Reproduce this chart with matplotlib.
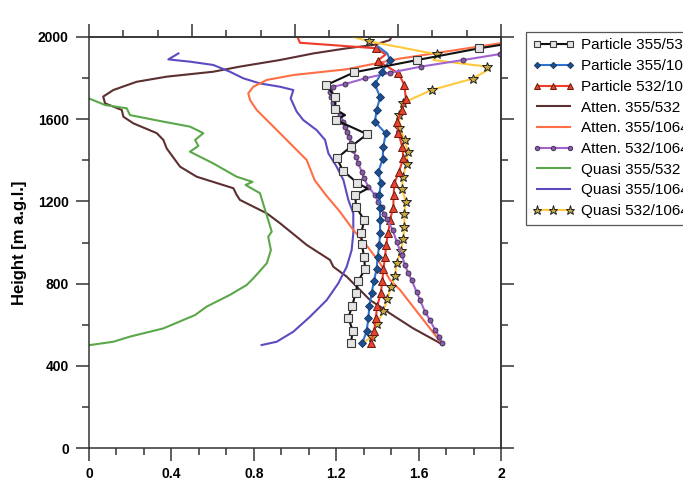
import matplotlib
matplotlib.use("Agg")
import matplotlib.pyplot as plt
from matplotlib.ticker import MultipleLocator, AutoMinorLocator, FuncFormatter

plt.rcParams["font.family"] = ["Liberation Sans", "DejaVu Sans"]

# ---- data (ratio vs height in m a.g.l.) ----
part_355_532_h = [512, 571, 634, 692, 753, 813, 870, 928, 993, 1048, 1109, 1174, 1231, 1262,
                  1291, 1349, 1410, 1466, 1527, 1596, 1620, 1648, 1709, 1766, 1828, 1888, 1945, 1962]
part_355_532_x = [1.272, 1.280, 1.259, 1.278, 1.294, 1.307, 1.340, 1.336, 1.324, 1.322, 1.336, 1.296,
                  1.293, 1.352, 1.301, 1.233, 1.203, 1.271, 1.350, 1.199, 1.243, 1.196, 1.194, 1.152,
                  1.287, 1.594, 1.895, 2.0]
part_355_532_mk = [i for i in range(27) if i not in (13, 20)]

part_355_1064_h = [509, 571, 631, 691, 753, 813, 869, 928, 988, 1048, 1109, 1170, 1231, 1288,
                   1345, 1405, 1466, 1531, 1588, 1645, 1706, 1771, 1828, 1888, 1920, 1953]
part_355_1064_x = [1.327, 1.348, 1.356, 1.361, 1.372, 1.383, 1.396, 1.401, 1.409, 1.413, 1.413,
                   1.413, 1.409, 1.417, 1.405, 1.425, 1.429, 1.440, 1.388, 1.396, 1.413, 1.388,
                   1.421, 1.461, 1.448, 1.404]
part_355_1064_mk = list(range(24))

part_532_1064_h = [512, 571, 634, 692, 753, 813, 870, 928, 988, 1048, 1109, 1170, 1231, 1288,
                   1345, 1410, 1466, 1531, 1588, 1645, 1700, 1766, 1823, 1885, 1915, 1945, 1972, 2005]
part_532_1064_x = [1.369, 1.385, 1.392, 1.400, 1.416, 1.424, 1.429, 1.437, 1.442, 1.453, 1.461,
                   1.477, 1.479, 1.482, 1.505, 1.526, 1.521, 1.502, 1.497, 1.518, 1.538, 1.531,
                   1.502, 1.401, 1.440, 1.394, 1.024, 1.010]
part_532_1064_mk = [i for i in range(26) if i != 24]

att_355_532_h = [506, 582, 655, 688, 720, 834, 882, 915, 988, 1028, 1094, 1142, 1207, 1231, 1264,
                 1320, 1369, 1458, 1499, 1532, 1580, 1612, 1645, 1677, 1710, 1742, 1782, 1807,
                 1831, 1856, 1888, 1920, 1945, 1961, 1985, 2005]
att_355_532_x = [1.712, 1.574, 1.461, 1.413, 1.364, 1.251, 1.186, 1.170, 1.057, 1.008, 0.927,
                 0.863, 0.733, 0.717, 0.701, 0.523, 0.442, 0.377, 0.361, 0.329, 0.215, 0.167,
                 0.159, 0.078, 0.069, 0.118, 0.231, 0.377, 0.603, 0.733, 0.927, 1.089, 1.251,
                 1.380, 1.461, 1.469]

att_355_1064_h = [509, 769, 818, 899, 996, 1061, 1150, 1231, 1304, 1401, 1532, 1596, 1645, 1693,
                  1726, 1758, 1791, 1815, 1843, 1895, 1970]
att_355_1064_x = [1.712, 1.510, 1.461, 1.413, 1.340, 1.283, 1.218, 1.150, 1.095, 1.057, 0.927,
                  0.863, 0.814, 0.782, 0.773, 0.798, 0.863, 0.992, 1.251, 1.510, 2.0]

att_532_1064_h = [509, 542, 574, 623, 663, 720, 760, 818, 850, 890, 939, 1004, 1061, 1113, 1137,
                  1174, 1199, 1231, 1272, 1312, 1345, 1385, 1418, 1450, 1483, 1515, 1539, 1564,
                  1588, 1620, 1653, 1677, 1710, 1734, 1758, 1771, 1799, 1826, 1856, 1888, 1917]
att_532_1064_x = [1.712, 1.700, 1.680, 1.655, 1.631, 1.607, 1.590, 1.566, 1.550, 1.534, 1.518,
                  1.494, 1.474, 1.445, 1.430, 1.421, 1.404, 1.388, 1.356, 1.335, 1.324, 1.307,
                  1.296, 1.280, 1.272, 1.264, 1.251, 1.243, 1.235, 1.218, 1.202, 1.186, 1.175,
                  1.172, 1.186, 1.243, 1.340, 1.461, 1.612, 1.817, 1.995]

qua_355_532_h = [501, 517, 542, 582, 647, 688, 745, 793, 826, 899, 963, 1028, 1053, 1109, 1174,
                 1240, 1280, 1295, 1320, 1385, 1442, 1470, 1499, 1532, 1564, 1588, 1620, 1653,
                 1669, 1701]
qua_355_532_x = [0.005, 0.118, 0.199, 0.361, 0.515, 0.571, 0.684, 0.765, 0.798, 0.863, 0.883,
                 0.870, 0.887, 0.870, 0.850, 0.830, 0.760, 0.794, 0.717, 0.603, 0.490, 0.531,
                 0.515, 0.555, 0.490, 0.361, 0.199, 0.183, 0.078, 0.0]

qua_355_1064_h = [501, 517, 566, 639, 720, 801, 882, 963, 1045, 1142, 1207, 1304, 1369, 1434,
                  1466, 1499, 1547, 1596, 1637, 1701, 1742, 1758, 1774, 1799, 1831, 1864, 1880,
                  1891, 1920]
qua_355_1064_x = [0.838, 0.911, 0.992, 1.073, 1.154, 1.210, 1.251, 1.275, 1.283, 1.283, 1.259,
                  1.235, 1.202, 1.162, 1.154, 1.146, 1.105, 1.040, 1.008, 0.979, 0.992, 0.927,
                  0.830, 0.749, 0.684, 0.603, 0.490, 0.385, 0.434]

qua_532_1064_h = [506, 542, 603, 666, 724, 782, 839, 899, 960, 1017, 1077, 1137, 1199, 1260,
                  1320, 1382, 1439, 1499, 1556, 1620, 1680, 1742, 1797, 1845, 1856, 1888, 1916,
                  1979, 2005]
qua_532_1064_x = [1.324, 1.372, 1.396, 1.429, 1.448, 1.466, 1.485, 1.494, 1.513, 1.526, 1.531,
                  1.531, 1.537, 1.521, 1.523, 1.542, 1.547, 1.534, 1.507, 1.507, 1.526, 1.663,
                  1.862, 1.945, 1.930, 1.672, 1.688, 1.359, 1.267]
qua_532_1064_mk = [i for i in range(1, 28) if i not in (23, 25)]

fig = plt.figure(figsize=(6.83, 4.82), dpi=100)
ax = fig.add_axes([89 / 683, 34 / 482, 412 / 683, 411 / 482])

lw = 1.5
ax.plot(att_355_532_x, att_355_532_h, color="#5c2f30", lw=lw, label="Atten. 355/532")
ax.plot(qua_355_532_x, qua_355_532_h, color="#5ba84a", lw=lw, label="Quasi 355/532")
ax.plot(qua_355_1064_x, qua_355_1064_h, color="#5a4cc0", lw=lw, label="Quasi 355/1064")
ax.plot(att_355_1064_x, att_355_1064_h, color="#ff6e45", lw=lw, label="Atten. 355/1064")
ax.plot(qua_532_1064_x, qua_532_1064_h, color="#ffc93c", lw=lw, marker="*", ms=7.5,
        mfc="#c9a83c", mec="#222222", mew=0.7, markevery=qua_532_1064_mk, label="Quasi 532/1064")
ax.plot(part_532_1064_x, part_532_1064_h, color="#ee3b2a", lw=lw, marker="^", ms=5.5,
        mfc="#e8432e", mec="#6a1a10", mew=0.7, markevery=part_532_1064_mk, label="Particle 532/1064")
ax.plot(att_532_1064_x, att_532_1064_h, color="#a064d0", lw=lw, marker="o", ms=3.6,
        mfc="#8a5aa8", mec="#3b2a4a", mew=0.6, label="Atten. 532/1064")
ax.plot(part_355_1064_x, part_355_1064_h, color="#2f72d0", lw=lw, marker="D", ms=3.6,
        mfc="#1d4f90", mec="#16345e", mew=0.6, markevery=part_355_1064_mk, label="Particle 355/1064")
ax.plot(part_355_532_x, part_355_532_h, color="#111111", lw=lw, marker="s", ms=5.3,
        mfc="#e4e4e4", mec="#3a3a3a", mew=0.8, markevery=part_355_532_mk, label="Particle 355/532")

ax.set_xlim(0, 2)
ax.set_ylim(0, 2000)

spine_c = "#333333"
for s in ax.spines.values():
    s.set_color(spine_c)
    s.set_linewidth(1.1)

ax.xaxis.set_major_locator(MultipleLocator(0.4))
ax.xaxis.set_minor_locator(AutoMinorLocator(3))
ax.yaxis.set_major_locator(MultipleLocator(400))
ax.yaxis.set_minor_locator(MultipleLocator(200))
ax.xaxis.set_major_formatter(FuncFormatter(lambda v, p: "%g" % round(v, 2)))
ax.tick_params(which="major", direction="out", length=9.5, width=1.1, color=spine_c,
               labelsize=10, pad=5)
ax.tick_params(which="minor", direction="out", length=5, width=1.1, color=spine_c)
ax.tick_params(axis="x", which="major", pad=4)
for lab in ax.get_xticklabels() + ax.get_yticklabels():
    lab.set_fontweight("bold")

top = ax.secondary_xaxis("top")
top.xaxis.set_major_locator(MultipleLocator(0.5))
top.xaxis.set_minor_locator(AutoMinorLocator(3))
top.tick_params(which="major", direction="out", length=9.5, width=1.1, color=spine_c, labeltop=False)
top.tick_params(which="minor", direction="out", length=5, width=1.1, color=spine_c)
top.spines["top"].set_color(spine_c)
top.spines["top"].set_linewidth(1.1)

right = ax.secondary_yaxis("right")
right.yaxis.set_major_locator(MultipleLocator(400))
right.yaxis.set_minor_locator(MultipleLocator(200))
right.tick_params(which="major", direction="out", length=9.5, width=1.1, color=spine_c, labelright=False)
right.tick_params(which="minor", direction="out", length=5, width=1.1, color=spine_c)
right.spines["right"].set_color(spine_c)
right.spines["right"].set_linewidth(1.1)

ax.set_ylabel("Height [m a.g.l.]", fontsize=12, fontweight="bold", labelpad=8)

# legend in the original order
handles, labels = ax.get_legend_handles_labels()
order = ["Particle 355/532", "Particle 355/1064", "Particle 532/1064", "Atten. 355/532",
         "Atten. 355/1064", "Atten. 532/1064", "Quasi 355/532", "Quasi 355/1064", "Quasi 532/1064"]
hmap = dict(zip(labels, handles))
leg = ax.legend([hmap[k] for k in order], order, loc="upper left",
                bbox_to_anchor=(526 / 683, 1 - 32 / 482), bbox_transform=fig.transFigure,
                borderaxespad=0, fontsize=11, handlelength=2.75, handletextpad=0.45,
                labelspacing=0.44, borderpad=0.42, numpoints=3, markerscale=0.9,
                fancybox=False, framealpha=1, edgecolor="#555555")
leg.get_frame().set_linewidth(0.9)
leg.set_in_layout(False)

fig.savefig("out.png", dpi=100)
plt.close(fig)
